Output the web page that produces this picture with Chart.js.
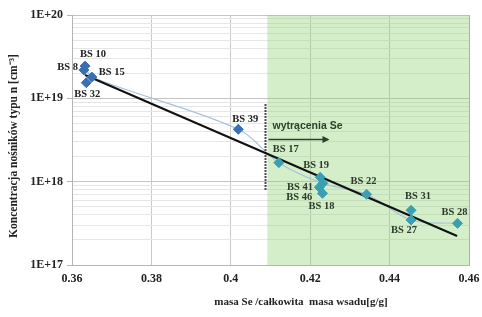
<!DOCTYPE html>
<html><head><meta charset="utf-8">
<script src="https://cdn.jsdelivr.net/npm/chart.js@4.4.0/dist/chart.umd.min.js"></script>
<style>html,body{margin:0;padding:0;background:#fff}canvas{display:block}</style>
</head><body>
<canvas id="c" width="482" height="317"></canvas>
<script>
// ---- data ----
const pointNames = ['BS 8','BS 10','BS 15','BS 32','BS 39','BS 17','BS 19','BS 41','BS 46','BS 18','BS 22','BS 31','BS 27','BS 28'];
const massRatio  = [0.3630,0.3633,0.3650,0.3636,0.4019,0.4121,0.4225,0.4232,0.4223,0.4231,0.4342,0.4454,0.4454,0.4571];
const concentration = [2.19e19,2.44e19,1.80e19,1.54e19,4.25e18,1.69e18,1.13e18,9.55e17,8.55e17,7.24e17,7.05e17,4.53e17,3.47e17,3.16e17];
const trendX = [0.3633, 0.4570];
const trendY = [1.905e19, 2.23e17];
const smoothOrder = ['BS 10','BS 15','BS 39','BS 17','BS 41','BS 22','BS 27','BS 28'];
const precipitationStart = 0.4092;   // shaded region start
const xTicks = [0.36,0.38,0.40,0.42,0.44,0.46];
const yDecades = [1e17,1e18,1e19,1e20];
const yTickLabels = ['1E+17','1E+18','1E+19','1E+20'];
const markerLineY = [8.5e18, 7.9e17];
const annotationText = 'wytrącenia Se';
const xTitle = 'masa Se /całkowita  masa wsadu[g/g]';
const yTitle = 'Koncentracja nośników typu n [cm⁻³]';

// label placement (style)
const labelPos = {
 'BS 8':[-6,-3,'right'],'BS 10':[8,-12,'center'],'BS 15':[7,-5,'left'],'BS 32':[1,12,'center'],
 'BS 39':[7,-10,'center'],'BS 17':[7,-13,'center'],'BS 19':[-4,-12,'center'],'BS 41':[-10,4,'right'],
 'BS 46':[-7,10,'right'],'BS 18':[-1,13,'center'],'BS 22':[-3,-13,'center'],'BS 31':[7,-14,'center'],
 'BS 27':[-7,10,'center'],'BS 28':[-3,-11,'center']
};

const pts = pointNames.map((n,i)=>({x:massRatio[i], y:concentration[i], n}));
const bluePts = pts.filter(p=>p.x < precipitationStart);
const tealPts = pts.filter(p=>p.x >= precipitationStart);
const smoothPts = smoothOrder.map(n=>pts.find(p=>p.n===n));
const trendPts = trendX.map((x,i)=>({x, y:trendY[i]}));

const serif = "'Liberation Serif','Times New Roman',serif";

const overlay = {
  id:'overlay',
  beforeDatasetsDraw(chart){
    const {ctx, chartArea:a, scales:{x}} = chart;
    const x0 = x.getPixelForValue(precipitationStart);
    ctx.save();
    ctx.fillStyle = 'rgba(140,210,110,0.38)';
    ctx.fillRect(x0, a.top, a.right - x0, a.bottom - a.top);
    ctx.strokeStyle = '#b0b0b0'; ctx.lineWidth = 1;
    ctx.beginPath(); ctx.moveTo(a.right+0.5, a.top); ctx.lineTo(a.right+0.5, a.bottom); ctx.stroke();
    ctx.restore();
  },
  afterDatasetsDraw(chart){
    const {ctx, scales:{x,y}} = chart;
    ctx.save();
    // dotted marker line
    const xm = Math.round(x.getPixelForValue(precipitationStart)) - 1.5;
    ctx.strokeStyle = '#111'; ctx.lineWidth = 2; ctx.setLineDash([1.5,1.5]);
    ctx.beginPath(); ctx.moveTo(xm, y.getPixelForValue(markerLineY[0])); ctx.lineTo(xm, y.getPixelForValue(markerLineY[1])); ctx.stroke();
    ctx.setLineDash([]);
    // annotation
    ctx.fillStyle = '#2e3f2c';
    ctx.font = "bold 10.5px 'Liberation Sans',Arial,sans-serif";
    ctx.textAlign = 'left'; ctx.textBaseline = 'middle';
    ctx.fillText(annotationText, xm + 7, 126);
    ctx.strokeStyle = '#2e3f2c'; ctx.lineWidth = 1.5;
    ctx.beginPath(); ctx.moveTo(xm + 3, 139.5); ctx.lineTo(xm + 62, 139.5); ctx.stroke();
    ctx.fillStyle = '#2e3f2c';
    ctx.beginPath(); ctx.moveTo(xm + 64, 139.5); ctx.lineTo(xm + 57, 136); ctx.lineTo(xm + 57, 143); ctx.closePath(); ctx.fill();
    // labels
    ctx.font = 'bold 10.5px ' + serif;
    pts.forEach(p=>{
      const [dx,dy,al] = labelPos[p.n];
      ctx.fillStyle = p.x < precipitationStart ? '#222' : '#2d3a2b';
      ctx.textAlign = al;
      ctx.fillText(p.n, x.getPixelForValue(p.x)+dx, y.getPixelForValue(p.y)+dy);
    });
    ctx.restore();
  },
  afterDraw(chart){
    const {ctx} = chart;
    ctx.save();
    ctx.fillStyle = '#222';
    ctx.font = 'bold 11px ' + serif;
    ctx.textAlign = 'center'; ctx.textBaseline = 'middle';
    ctx.fillText(xTitle, 301, 302);
    ctx.font = 'bold 11.5px ' + serif;
    ctx.translate(14, 146); ctx.rotate(-Math.PI/2);
    ctx.fillText(yTitle, 0, 0);
    ctx.restore();
  }
};

new Chart(document.getElementById('c'), {
  type:'scatter',
  data:{datasets:[
    {data:smoothPts, showLine:true, borderColor:'#a9c3d9', borderWidth:1.2, tension:0.35, pointRadius:0, order:4},
    {data:trendPts, showLine:true, borderColor:'#111', borderWidth:2, pointRadius:0, order:3},
    {data:bluePts, pointStyle:'rectRot', pointRadius:5, backgroundColor:'#3a6fb3', borderColor:'#3a6fb3', order:1},
    {data:tealPts, pointStyle:'rectRot', pointRadius:5, backgroundColor:'#3a9fb2', borderColor:'#3a9fb2', order:2}
  ]},
  options:{
    responsive:false, animation:false, devicePixelRatio:1,
    layout:{padding:{top:15,right:0,left:0,bottom:0}},
    plugins:{legend:{display:false}, tooltip:{enabled:false}},
    scales:{
      x:{type:'linear', min:xTicks[0], max:xTicks[xTicks.length-1],
        afterBuildTicks(s){ s.ticks = xTicks.map(v=>({value:v})); },
        afterFit(s){ s.height = 52; s.paddingRight = 13; },
        grid:{color:'#c9c9c9', tickLength:0, drawTicks:false},
        border:{color:'#b5b5b5'},
        ticks:{padding:7, color:'#222', font:{family:serif, size:12, weight:'bold'},
          callback:v=>String(Math.round(v*100)/100)},
        title:{display:false}
      },
      y:{type:'logarithmic', min:yDecades[0], max:yDecades[yDecades.length-1],
        afterBuildTicks(s){
          const t=[];
          for(let d=0; d<yDecades.length; d++){
            t.push({value:yDecades[d], major:true});
            if(d<yDecades.length-1) for(let k=2;k<=9;k++) t.push({value:yDecades[d]*k});
          }
          s.ticks=t;
        },
        afterFit(s){ s.width = 72; },
        grid:{color:c=>c.tick && c.tick.major ? '#c4c4c4' : '#e6e6e6', tickLength:5,
              tickColor:c=>c.tick && c.tick.major ? '#b5b5b5' : 'rgba(0,0,0,0)'},
        border:{color:'#b5b5b5'},
        ticks:{autoSkip:false, padding:4, color:'#222', font:{family:serif, size:12, weight:'bold'},
          callback:(v)=>{ const i = yDecades.findIndex(d=>Math.abs(d-v)/d<1e-6); return i>=0 ? yTickLabels[i] : ''; }},
        title:{display:false}
      }
    }
  },
  plugins:[overlay]
});
</script>
</body></html>
